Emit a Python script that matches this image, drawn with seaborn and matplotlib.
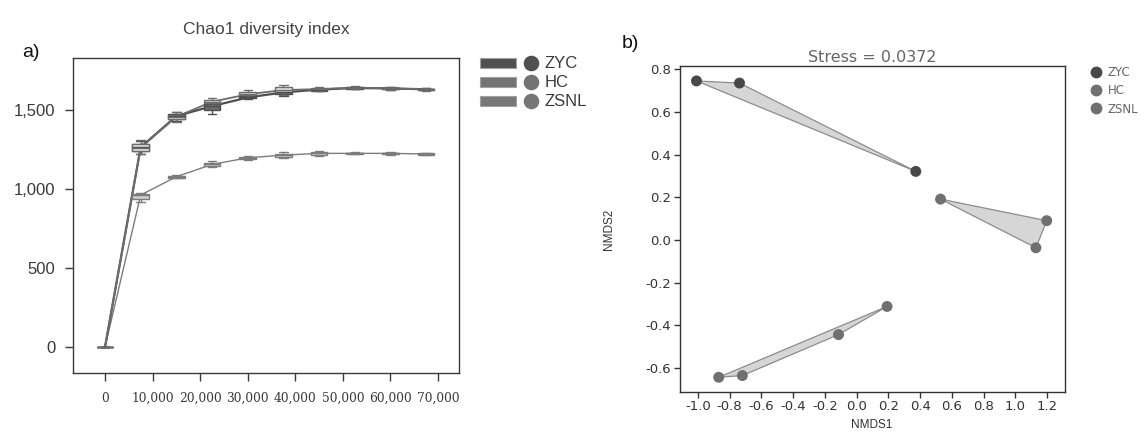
import numpy as np
import pandas as pd
import matplotlib
matplotlib.use("Agg")
import matplotlib.pyplot as plt
import seaborn as sns
from matplotlib.patches import Rectangle, Patch
from matplotlib.lines import Line2D
from matplotlib.legend_handler import HandlerBase
from matplotlib.ticker import FuncFormatter

# ---------------- data: panel a (Chao1 rarefaction boxplots) ----------------
groups = ["ZYC", "HC", "ZSNL"]
depths = [0, 7500, 15000, 22500, 30000, 37500, 45000, 52500, 60000, 67500]

zyc_med = [0, 1265, 1462, 1525, 1580, 1612, 1630, 1640, 1637, 1632]
zyc_lo  = [0, 1222, 1430, 1475, 1568, 1590, 1618, 1632, 1630, 1625]
zyc_hi  = [0, 1305, 1490, 1548, 1595, 1640, 1642, 1648, 1645, 1640]

hc_med = [0, 1262, 1458, 1553, 1600, 1627, 1633, 1642, 1638, 1631]
hc_lo  = [0, 1225, 1425, 1532, 1585, 1598, 1622, 1634, 1630, 1624]
hc_hi  = [0, 1312, 1485, 1575, 1628, 1660, 1645, 1652, 1646, 1638]

zsnl_med = [0, 962, 1078, 1156, 1198, 1215, 1226, 1226, 1226, 1222]
zsnl_lo  = [0, 918, 1068, 1140, 1185, 1195, 1210, 1220, 1218, 1215]
zsnl_hi  = [0, 975, 1088, 1175, 1212, 1232, 1240, 1232, 1234, 1229]

x_ticks = [0, 10000, 20000, 30000, 40000, 50000, 60000, 70000]
y_ticks = [0, 500, 1000, 1500]

# ---------------- data: panel b (NMDS) ----------------
nmds_group = ["ZYC", "ZYC", "ZYC", "HC", "HC", "HC", "ZSNL", "ZSNL", "ZSNL", "ZSNL"]
nmds1 = [-1.009, -0.738, 0.373, 0.529, 1.198, 1.130, 0.192, -0.114, -0.869, -0.720]
nmds2 = [0.745, 0.735, 0.321, 0.191, 0.090, -0.037, -0.312, -0.444, -0.644, -0.636]
nmds_xticks = [-1.0, -0.8, -0.6, -0.4, -0.2, 0.0, 0.2, 0.4, 0.6, 0.8, 1.0, 1.2]
nmds_yticks = [-0.6, -0.4, -0.2, 0.0, 0.2, 0.4, 0.6, 0.8]
stress = 0.0372

# ---------------- styling ----------------
sns.set_theme(style="white")
plt.rcParams["font.family"] = ["Liberation Sans", "DejaVu Sans"]

line_col = {"ZYC": "#4e4e4e", "HC": "#6c6c6c", "ZSNL": "#7c7c7c"}
box_fill = {"ZYC": "#6a6a6a", "HC": "#e4e4e4", "ZSNL": "#cfcfcf"}
legend_col = {"ZYC": "#4f4f4f", "HC": "#737373", "ZSNL": "#777777"}
line_w = {"ZYC": 1.6, "HC": 1.3, "ZSNL": 1.0}
pt_col = {"ZYC": "#484848", "HC": "#707070", "ZSNL": "#707070"}

W, H = 1144, 432
fig = plt.figure(figsize=(W / 100, H / 100), dpi=100)

# ---------------- panel a ----------------
axa = fig.add_axes([73 / W, 1 - 373 / H, 386 / W, 315 / H])
series = {
    "ZYC": (zyc_lo, zyc_med, zyc_hi),
    "HC": (hc_lo, hc_med, hc_hi),
    "ZSNL": (zsnl_lo, zsnl_med, zsnl_hi),
}
order_draw = ["ZSNL", "ZYC", "HC"]
for g in order_draw:
    lo, med, hi = series[g]
    rows = []
    for d, a, m, b in zip(depths, lo, med, hi):
        for v in (a, m, b):
            rows.append({"depth": d, "value": v})
    df = pd.DataFrame(rows)
    sns.lineplot(x=depths, y=med, color=line_col[g], lw=line_w[g], ax=axa, zorder=2)
    sns.boxplot(data=df, x="depth", y="value", native_scale=True, orient="x",
                width=0.47, whis=np.inf, color=box_fill[g], linecolor=line_col[g],
                linewidth=1.0, ax=axa, zorder=3)

axa.set_xlim(-6730, 74420)
axa.set_ylim(-165, 1830)
axa.set_xticks(x_ticks)
axa.set_yticks(y_ticks)
fmt = FuncFormatter(lambda v, p: f"{int(v):,}")
axa.xaxis.set_major_formatter(fmt)
axa.yaxis.set_major_formatter(fmt)
axa.set_xlabel("")
axa.set_ylabel("")
for s in axa.spines.values():
    s.set_color("#3a3a3a")
    s.set_linewidth(1.0)
axa.tick_params(axis="both", which="major", direction="out", length=5.5, width=1.0,
                color="#3a3a3a", bottom=True, left=True)
axa.tick_params(axis="y", labelsize=12, labelcolor="#3a3a3a", pad=7)
for lab in axa.get_xticklabels():
    lab.set_fontfamily("DejaVu Serif")
    lab.set_fontsize(8.8)
    lab.set_color("#3a3a3a")
axa.tick_params(axis="x", pad=8)
axa.set_title("Chao1 diversity index", fontsize=12.5, color="#444444", pad=17)


class RectDotHandler(HandlerBase):
    def create_artists(self, legend, orig_handle, xdescent, ydescent, width, height,
                       fontsize, trans):
        c = orig_handle.get_facecolor()
        r = Rectangle((-xdescent, -ydescent + height * 0.02), width * 0.64, height * 0.85,
                      facecolor=c, edgecolor="#a0a0a0", lw=0.8, transform=trans)
        d = Line2D([-xdescent + width * 0.9], [height * 0.45 - ydescent], marker="o",
                   ms=fontsize * 0.85, color=c, ls="", transform=trans)
        return [r, d]


handles_a = [Patch(facecolor=legend_col[g]) for g in groups]
fig.legend(handles_a, groups, handler_map={Patch: RectDotHandler()},
           loc="upper left", bbox_to_anchor=(480 / W, 1 - 56 / H), frameon=False,
           fontsize=12, handlelength=3.4, handletextpad=0.45, labelspacing=0.25,
           borderpad=0, borderaxespad=0, labelcolor="#3a3a3a")

fig.text(22 / W, 1 - 57 / H, "a)", fontsize=14, color="#111111")

# ---------------- panel b ----------------
axb = fig.add_axes([679.5 / W, 1 - 392 / H, 385 / W, 326 / H])
dfn = pd.DataFrame({"group": nmds_group, "NMDS1": nmds1, "NMDS2": nmds2})
for g in groups:
    sub = dfn[dfn["group"] == g]
    px = sub["NMDS1"].to_numpy()
    py = sub["NMDS2"].to_numpy()
    cx, cy = px.mean(), py.mean()
    order = np.argsort(np.arctan2(py - cy, px - cx))
    axb.fill(px[order], py[order], facecolor="#d6d6d6", edgecolor="#8c8c8c", lw=0.9, zorder=1)
sns.scatterplot(data=dfn, x="NMDS1", y="NMDS2", hue="group", palette=pt_col,
                s=62, edgecolor="none", legend=False, ax=axb, zorder=3)
axb.set_xlim(-1.116, 1.31)
axb.set_ylim(-0.713, 0.815)
axb.set_xticks(nmds_xticks)
axb.set_yticks(nmds_yticks)
axb.xaxis.set_major_formatter(FuncFormatter(lambda v, p: f"{v:.1f}"))
axb.yaxis.set_major_formatter(FuncFormatter(lambda v, p: f"{v:.1f}"))
for s in axb.spines.values():
    s.set_color("#333333")
    s.set_linewidth(1.0)
axb.tick_params(axis="both", direction="out", length=4, width=1.0, color="#333333",
                bottom=True, left=True, labelsize=9.5, labelcolor="#333333", pad=2)
for lab in axb.get_xticklabels() + axb.get_yticklabels():
    lab.set_fontfamily("DejaVu Sans")
axb.set_title(f"Stress = {stress}", fontsize=11.5, color="#666666", pad=3,
              fontfamily="DejaVu Sans")
axb.set_xlabel("NMDS1", fontsize=8.5, color="#333333", labelpad=4)
axb.set_ylabel("NMDS2", fontsize=8.5, color="#333333", labelpad=22)

handles_b = [Line2D([], [], marker="o", ls="", ms=7.5, color=pt_col[g]) for g in groups]
fig.legend(handles_b, groups, loc="upper left", bbox_to_anchor=(1091 / W, 1 - 66 / H),
           frameon=False, handlelength=0.9, handletextpad=0.5,
           labelspacing=0.45, borderpad=0, borderaxespad=0, labelcolor="#666666",
           prop={"family": "DejaVu Sans", "size": 8.5})

fig.text(622 / W, 1 - 48 / H, "b)", fontsize=14, color="#111111")

fig.savefig("out.png", dpi=100)
